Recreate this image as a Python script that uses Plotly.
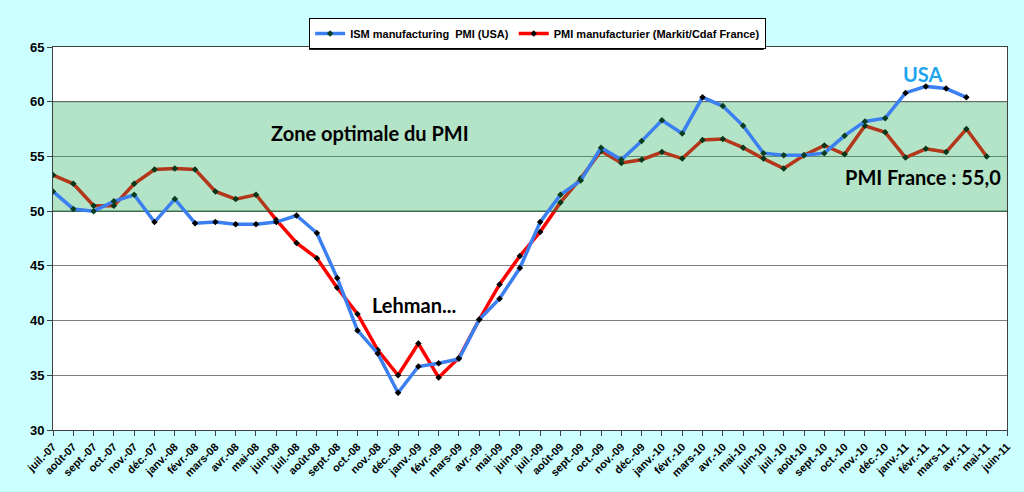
import plotly.graph_objects as go

months = [
    "juil.-07", "août-07", "sept.-07", "oct.-07", "nov.-07", "déc.-07",
    "janv.-08", "févr.-08", "mars-08", "avr.-08", "mai-08", "juin-08",
    "juil.-08", "août-08", "sept.-08", "oct.-08", "nov.-08", "déc.-08",
    "janv.-09", "févr.-09", "mars-09", "avr.-09", "mai-09", "juin-09",
    "juil.-09", "août-09", "sept.-09", "oct.-09", "nov.-09", "déc.-09",
    "janv.-10", "févr.-10", "mars-10", "avr.-10", "mai-10", "juin-10",
    "juil.-10", "août-10", "sept.-10", "oct.-10", "nov.-10", "déc.-10",
    "janv.-11", "févr.-11", "mars-11", "avr.-11", "mai-11", "juin-11",
]

# ISM manufacturing PMI (USA) - stops at avr.-11
pmi_usa = [
    51.8, 50.2, 50.0, 50.9, 51.5, 49.0,
    51.1, 48.9, 49.0, 48.8, 48.8, 49.0,
    49.6, 48.0, 43.9, 39.1, 37.0, 33.4,
    35.8, 36.1, 36.5, 40.1, 42.0, 44.8,
    49.0, 51.5, 52.8, 55.8, 54.7, 56.4,
    58.3, 57.1, 60.4, 59.6, 57.8, 55.3,
    55.1, 55.1, 55.3, 56.9, 58.2, 58.5,
    60.8, 61.4, 61.2, 60.4, None, None,
]

# PMI manufacturier (Markit/Cdaf France) - stops at mai-11
pmi_france = [
    53.3, 52.5, 50.5, 50.5, 52.5, 53.8,
    53.9, 53.8, 51.8, 51.1, 51.5, 49.2,
    47.1, 45.7, 43.0, 40.6, 37.3, 35.0,
    37.9, 34.8, 36.6, 40.1, 43.3, 45.9,
    48.1, 50.8, 53.0, 55.5, 54.4, 54.7,
    55.4, 54.8, 56.5, 56.6, 55.8, 54.8,
    53.9, 55.1, 56.0, 55.2, 57.8, 57.2,
    54.9, 55.7, 55.4, 57.5, 55.0, None,
]

zone_low, zone_high = 50, 60
y_ticks = [30, 35, 40, 45, 50, 55, 60, 65]

fig = go.Figure()

# France line sits under the green zone (it looks brownish inside it)
fig.add_trace(go.Scatter(
    x=months, y=pmi_france,
    mode="lines+markers",
    name="PMI manufacturier (Markit/Cdaf France)",
    line=dict(color="#ff0000", width=3.5),
    marker=dict(symbol="diamond", size=5, color="black"),
    legendrank=2,
))

# translucent "zone optimale" band
fig.add_trace(go.Scatter(
    x=[months[0], months[-1]], y=[zone_low, zone_low],
    mode="lines", line=dict(color="#1e5a32", width=1),
    showlegend=False, hoverinfo="skip",
))
fig.add_trace(go.Scatter(
    x=[months[0], months[-1]], y=[zone_high, zone_high],
    mode="lines", line=dict(color="#5a6a60", width=1),
    fill="tonexty", fillcolor="rgba(20,170,80,0.32)",
    showlegend=False, hoverinfo="skip",
))

usa_marker_colors = [
    "#0b3d1e" if v is not None and zone_low <= v <= zone_high else "black"
    for v in pmi_usa
]
fig.add_trace(go.Scatter(
    x=months, y=pmi_usa,
    mode="lines+markers",
    name="ISM manufacturing  PMI (USA)",
    line=dict(color="#3b7ff0", width=3.5),
    marker=dict(symbol="diamond", size=5, color=usa_marker_colors),
    legendrank=1,
))

# text labels on the chart
label_font = dict(family="Lato", size=20, color="black")
fig.add_annotation(x=months[16], y=57.1, text="<b>Zone optimale du PMI</b>",
                   showarrow=False, xanchor="center", xshift=-8, font=label_font)
fig.add_annotation(x=months[18], y=41.4, text="<b>Lehman...</b>",
                   showarrow=False, xanchor="center", xshift=-4, font=label_font)
fig.add_annotation(x=months[46], y=53.1, text="<b>PMI France : 55,0</b>",
                   showarrow=False, xanchor="right", xshift=16, font=label_font)
fig.add_annotation(x=months[43], y=62.5, text="<b>USA</b>",
                   showarrow=False, xanchor="center", xshift=-3,
                   font=dict(family="Lato", size=20, color="#1ea5ee"))

# legend drop shadow (3px right / down of the legend box)
fig.add_shape(type="rect", xref="paper", yref="paper",
              x0=0.2685, x1=0.745, y0=0.992, y1=1.065,
              fillcolor="#202020", line=dict(width=0), layer="below")

fig.update_xaxes(
    type="category",
    range=[0, len(months) - 1],
    tickangle=-45,
    ticks="outside", ticklen=5, tickcolor="#404040",
    showline=True, linecolor="#404040", linewidth=1, mirror=True,
    showgrid=False,
    tickfont=dict(family="Liberation Sans", size=11, color="black", weight="bold"),
)
fig.update_yaxes(
    range=[30, 65],
    tickvals=y_ticks,
    ticks="outside", ticklen=5, tickcolor="#404040",
    showline=True, linecolor="#404040", linewidth=1, mirror=True,
    showgrid=True, gridcolor="#7f7f7f", gridwidth=1,
    zeroline=False,
    tickfont=dict(family="Liberation Sans", size=13, color="black", weight="bold"),
)

fig.update_layout(
    width=1024, height=492,
    margin=dict(l=53, r=14, t=47, b=62),
    paper_bgcolor="#ccffff",
    plot_bgcolor="white",
    showlegend=True,
    legend=dict(
        orientation="h",
        x=0.508, xanchor="center",
        y=1.076, yanchor="top",
        bgcolor="white", bordercolor="black", borderwidth=1,
        font=dict(family="Liberation Sans", size=11, color="black", weight="bold"),
        traceorder="normal",
    ),
)

# the page body has a default 8px margin; drop it so the figure fills the window
fig.write_html("out.html", config={"displayModeBar": False},
               post_script="document.body.style.margin='0';")
